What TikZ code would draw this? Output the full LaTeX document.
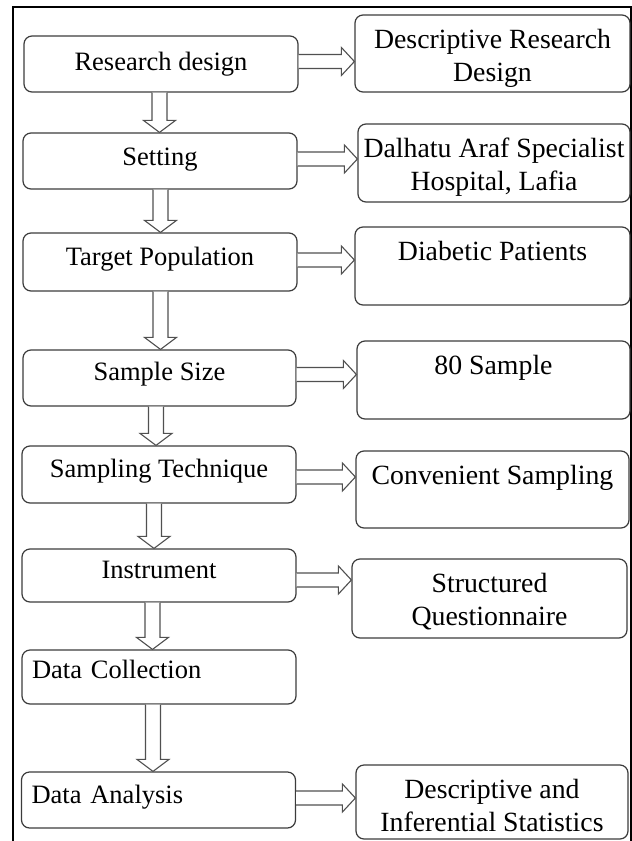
\documentclass[tikz,border=0pt]{standalone}
\usepackage{fontspec}
\setmainfont{Liberation Serif}
\usetikzlibrary{calc}
\definecolor{boxc}{RGB}{60,60,60}
\definecolor{arrc}{RGB}{80,80,80}
\newcommand\downarr[3]{% from node, to node, x shift (px)
  \draw[blk] let \p1=([xshift=#3pt]#1.south), \p2=([xshift=#3pt]#2.north) in
    (\x1-7.5pt,\y1) -- (\x1-7.5pt,\y2+12pt) -- (\x1-16pt,\y2+12pt) -- (\x1,\y2)
    -- (\x1+16pt,\y2+12pt) -- (\x1+7.5pt,\y2+12pt) -- (\x1+7.5pt,\y1);}
\newcommand\rightarr[3]{% from node, to node, y shift (px, up positive)
  \draw[blk] let \p1=([yshift=#3pt]#1.east), \p2=(#2.west) in
    (\x1,\y1+7pt) -- (\x2-13pt,\y1+7pt) -- (\x2-13pt,\y1+14pt) -- (\x2,\y1)
    -- (\x2-13pt,\y1-14pt) -- (\x2-13pt,\y1-7pt) -- (\x1,\y1-7pt);}
\newcommand\rtxt[1]{\parbox[t]{272pt}{\centering #1}}
\begin{document}
\begin{tikzpicture}[x=1pt,y=-1pt,
  lbox/.style={draw=boxc, line width=1.2pt, rounded corners=8pt,
    minimum width=274pt, inner xsep=10pt, inner ysep=0pt,
    text height=17pt, text depth=11pt,
    font=\fontsize{26.5}{32}\selectfont},
  lboxl/.style={lbox, text width=254pt, align=left},
  rbox/.style={draw=boxc, line width=1.2pt, rounded corners=8pt,
    minimum width=274pt, inner sep=0pt, text height=33pt,
    text depth=#1pt-33pt, minimum height=#1pt,
    font=\fontsize{27.8}{33}\selectfont},
  blk/.style={draw=arrc, fill=white, line width=1.1pt, line join=miter},
  frame/.style={draw=black, line width=1.4pt}]
\useasboundingbox (0,0) rectangle (632,841);
\fill[white] (0,0) rectangle (632,841);
\draw[frame] (13,841) -- (13,7) -- (631,7) -- (631,841);

% left column
\node[lbox, minimum height=56pt, text height=20pt, text depth=8pt] (rd) at (161,64) {Research design};
\node[lbox, minimum height=56pt, text height=18pt, text depth=10pt] (set) at (160,161) {Setting};
\node[lbox, minimum height=58pt] (tp) at (160,262) {Target Population};
\node[lbox, minimum height=56pt, minimum width=273pt, text height=16pt, text depth=12pt] (ss) at (159.5,378) {Sample Size};
\node[lbox, minimum height=57pt] (st) at (159,474.5) {Sampling Technique};
\node[lbox, minimum height=53pt] (ins) at (159,575.5) {Instrument};
\node[lboxl, minimum height=54pt, text height=15pt, text depth=13pt] (dc) at (159,677) {Data Collection};
\node[lboxl, minimum height=56pt] (da) at (158.5,800) {Data Analysis};

% right column (node centre = box centre; text hangs from the top)
\node[rbox=77, minimum width=275pt] (r1) at (492.5,53.5) {\rtxt{Descriptive Research\\Design}};
\node[rbox=78, minimum width=272pt] (r2) at (494,163) {\rtxt{Dalhatu Araf Specialist\\Hospital, Lafia}};
\node[rbox=78, minimum width=275pt] (r3) at (492.5,266) {\rtxt{Diabetic Patients}};
\node[rbox=78, minimum width=273pt] (r4) at (493.5,380) {\rtxt{80 Sample}};
\node[rbox=77, minimum width=273pt] (r5) at (492.5,489.5) {\rtxt{Convenient Sampling}};
\node[rbox=79, minimum width=275pt] (r6) at (489.5,598.5) {\rtxt{Structured\\Questionnaire}};
\node[rbox=74, minimum width=272pt] (r7) at (492,802) {\rtxt{Descriptive and\\Inferential Statistics}};

% down arrows
\downarr{rd}{set}{-1.5}
\downarr{set}{tp}{0.5}
\downarr{tp}{ss}{0.5}
\downarr{ss}{st}{-3.5}
\downarr{st}{ins}{-5}
\downarr{ins}{dc}{-6.5}
\downarr{dc}{da}{-6}

% right arrows
\rightarr{rd}{r1}{2.5}
\rightarr{set}{r2}{2}
\rightarr{tp}{r3}{2}
\rightarr{ss}{r4}{3.5}
\rightarr{st}{r5}{-2.5}
\rightarr{ins}{r6}{-4.5}
\rightarr{da}{r7}{2}
\end{tikzpicture}
\end{document}
